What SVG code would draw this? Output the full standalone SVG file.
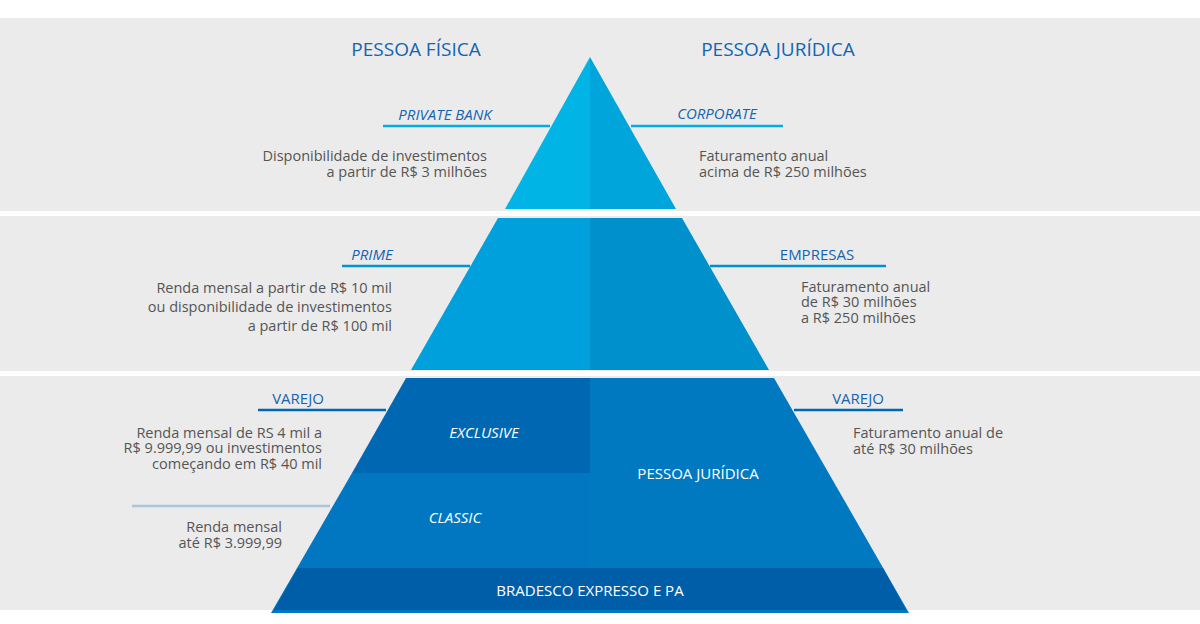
<svg xmlns="http://www.w3.org/2000/svg" width="1200" height="624" viewBox="0 0 1200 624">
<style>
text{font-family:"Open Sans","Liberation Sans",sans-serif}
.h{font-size:19px;fill:#1464b0;text-anchor:middle}
.l{font-size:15px;fill:#1464b0;font-style:italic;text-anchor:middle}
.L{font-size:15px;fill:#1464b0;text-anchor:middle}
.b{font-size:14.5px;fill:#555}
.r{text-anchor:end}
.w{font-size:15px;fill:#fff;text-anchor:middle}
.wi{font-size:15px;fill:#fff;font-style:italic;text-anchor:middle}
.ln{stroke-width:2.5}
</style>
<rect width="1200" height="624" fill="#fff"/>
<rect x="0" y="18" width="1200" height="193" fill="#ebebeb"/>
<rect x="0" y="216" width="1200" height="155" fill="#ebebeb"/>
<rect x="0" y="376" width="1200" height="234" fill="#ebebeb"/>
<g id="top"><polygon points="590,57 505,209 590,209" fill="#00b5e6"/><polygon points="590,57 676,209 590,209" fill="#00a5dc"/></g>
<g id="mid"><polygon points="498,218 590,218 590,370 411,370" fill="#00a0dc"/><polygon points="590,218 682,218 769,370 590,370" fill="#0090cc"/></g>
<g id="bottom">
<polygon points="406,378 590,378 590,473 352,473" fill="#0068b2"/>
<polygon points="590,378 774,378 909,613 590,613" fill="#0079c1"/>
<polygon points="352,473 590,473 590,613 271,613" fill="#0077c0"/>
<polygon points="298,568 883,568 906,610 274,610" fill="#005ea9"/>
</g>
<g id="connectors" class="ln">
<line x1="383" y1="126" x2="550" y2="126" stroke="#00aee3" stroke-width="2.5"/>
<line x1="631" y1="126" x2="783" y2="126" stroke="#00aee3" stroke-width="2.5"/>
<line x1="342" y1="266" x2="470" y2="266" stroke="#0096d4" stroke-width="2.5"/>
<line x1="710" y1="266" x2="886" y2="266" stroke="#0090cc" stroke-width="2.5"/>
<line x1="258" y1="410" x2="386" y2="410" stroke="#0068b2" stroke-width="2.5"/>
<line x1="794" y1="410" x2="903" y2="410" stroke="#0068b2" stroke-width="2.5"/>
<line x1="132" y1="506" x2="330" y2="506" stroke="#a9c5da" stroke-width="2.5"/>
</g>
<text class="h" x="416" y="56">PESSOA FÍSICA</text>
<text class="h" x="778" y="56">PESSOA JURÍDICA</text>
<text class="l" x="445" y="120">PRIVATE BANK</text>
<text class="l" x="717" y="119">CORPORATE</text>
<text class="b r" x="487" y="161">Disponibilidade de investimentos</text>
<text class="b r" x="487" y="177">a partir de R$ 3 milhões</text>
<text class="b" x="699" y="161">Faturamento anual</text>
<text class="b" x="699" y="177">acima de R$ 250 milhões</text>
<text class="l" x="372" y="260">PRIME</text>
<text class="L" x="817" y="260">EMPRESAS</text>
<text class="b r" x="392" y="293">Renda mensal a partir de R$ 10 mil</text>
<text class="b r" x="392" y="312">ou disponibilidade de investimentos</text>
<text class="b r" x="392" y="331">a partir de R$ 100 mil</text>
<text class="b" x="801" y="292">Faturamento anual</text>
<text class="b" x="801" y="307">de R$ 30 milhões</text>
<text class="b" x="801" y="323">a R$ 250 milhões</text>
<text class="L" x="298" y="404">VAREJO</text>
<text class="L" x="858" y="404">VAREJO</text>
<text class="b r" x="322" y="438">Renda mensal de RS 4 mil a</text>
<text class="b r" x="322" y="453">R$ 9.999,99 ou investimentos</text>
<text class="b r" x="322" y="469">começando em R$ 40 mil</text>
<text class="b" x="853" y="438">Faturamento anual de</text>
<text class="b" x="853" y="454">até R$ 30 milhões</text>
<text class="b r" x="282" y="532">Renda mensal</text>
<text class="b r" x="282" y="548">até R$ 3.999,99</text>
<text class="wi" x="484" y="438">EXCLUSIVE</text>
<text class="wi" x="455" y="523">CLASSIC</text>
<text class="w" x="698" y="479">PESSOA JURÍDICA</text>
<text class="w" x="590" y="596">BRADESCO EXPRESSO E PA</text>
</svg>
